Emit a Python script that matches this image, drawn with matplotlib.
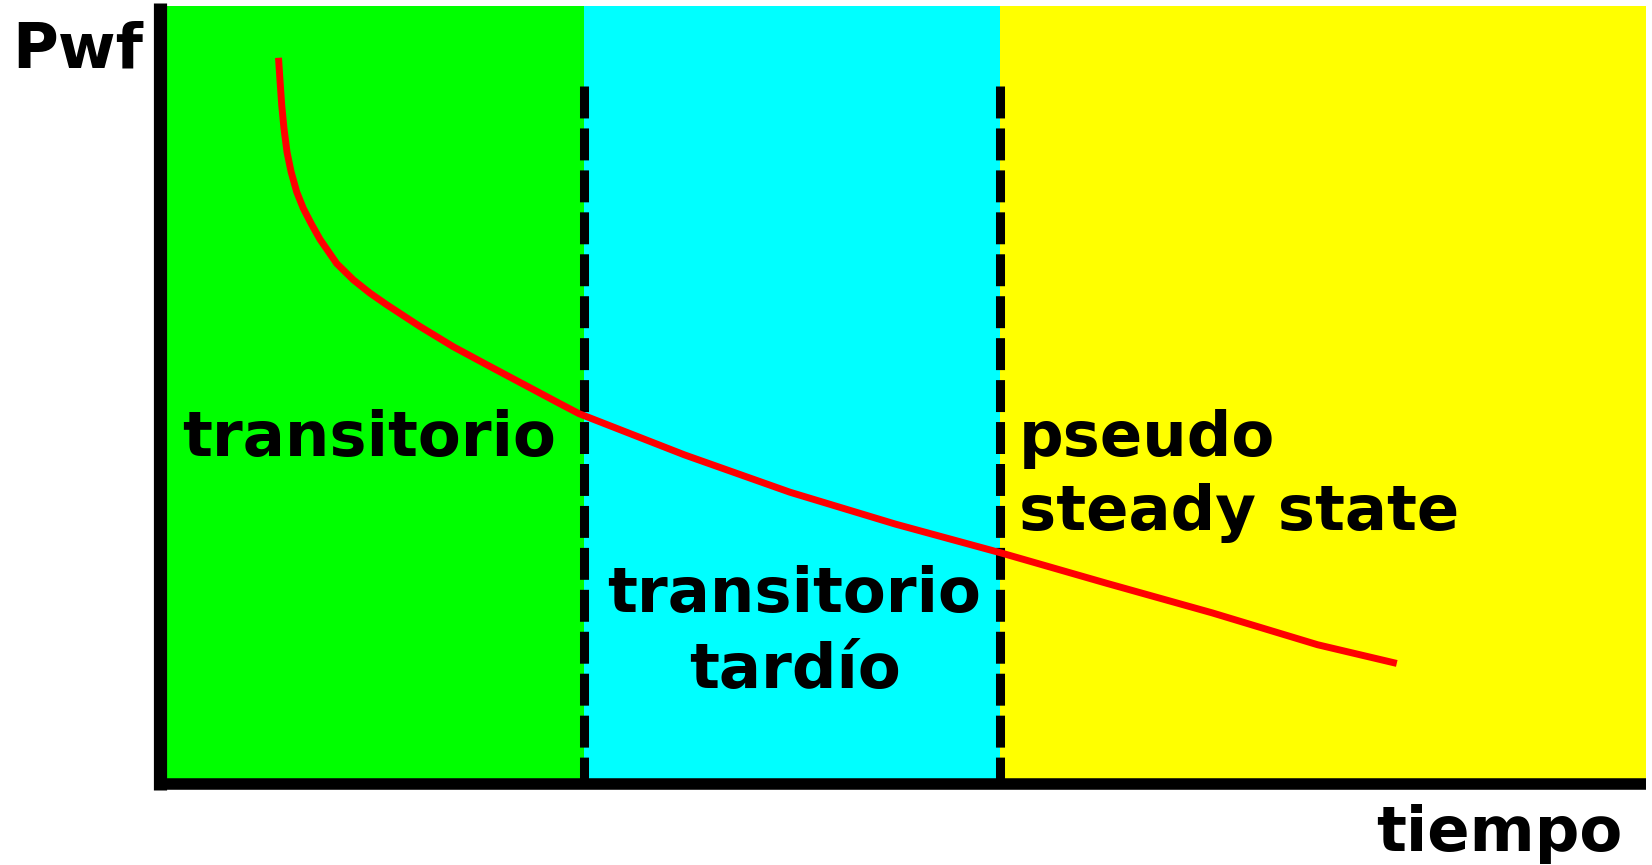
import matplotlib
matplotlib.use("Agg")
import matplotlib.pyplot as plt

plt.rcParams['font.family'] = ['DejaVu Sans']
plt.rcParams['lines.scale_dashes'] = False

# data (arbitrary units)
tiempo = [7.99, 8.08, 8.19, 8.34, 8.55, 8.82, 9.2, 9.64, 10.21, 10.77,
          11.89, 13.01, 14.13, 15.26, 17.5, 19.74, 21.98, 26.8, 28.2,
          35.3, 42.4, 49.5, 56.6, 63.7, 70.8, 77.9, 83.0]
pwf = [92.9, 90.3, 87.3, 84.3, 81.2, 78.7, 76.1, 74.0, 71.9, 70.0,
       66.9, 64.8, 63.1, 61.6, 58.8, 56.2, 53.9, 49.0, 47.6,
       42.3, 37.5, 33.4, 29.7, 25.8, 22.0, 17.9, 15.6]
limites = [0, 28.5, 56.5, 100]
colores = ['#00ff00', '#00ffff', '#ffff00']

W, H = 1652, 865
fig = plt.figure(figsize=(W / 100, H / 100), dpi=100)
ax = fig.add_axes([160 / W, (H - 784) / H, 1486 / W, 778 / H])
ax.set_xlim(0, 100)
ax.set_ylim(0, 100)
ax.axis('off')

for i, c in enumerate(colores):
    ax.axvspan(limites[i], limites[i + 1], color=c, lw=0, zorder=0)

# region boundaries
for xb in limites[1:3]:
    ax.plot([xb, xb], [89.7, 0], color='black', lw=6.5,
            linestyle=(0, (23, 7.2)), solid_capstyle='butt',
            dash_capstyle='butt', zorder=2)

ax.plot(tiempo, pwf, color='#ff0000', lw=5, zorder=3,
        solid_joinstyle='round')

# axes lines
ax.plot([0, 0], [-0.8, 100.4], color='black', lw=9.5,
        solid_capstyle='butt', clip_on=False, zorder=4)
ax.plot([-0.4, 100], [0, 0], color='black', lw=8.3,
        solid_capstyle='butt', clip_on=False, zorder=4)


def txt(x, y, s, ha='left'):
    fig.text(x / W, 1 - y / H, s, ha=ha, va='baseline',
             fontsize=45, fontweight='bold')


txt(12, 68, 'Pwf')
txt(1376, 851, 'tiempo')
txt(182, 456, 'transitorio')
txt(1019, 456, 'pseudo')
txt(1019, 530, 'steady state')
txt(794, 612, 'transitorio', ha='center')
txt(795, 688, 'tardío', ha='center')

fig.savefig('out.png', dpi=100)
